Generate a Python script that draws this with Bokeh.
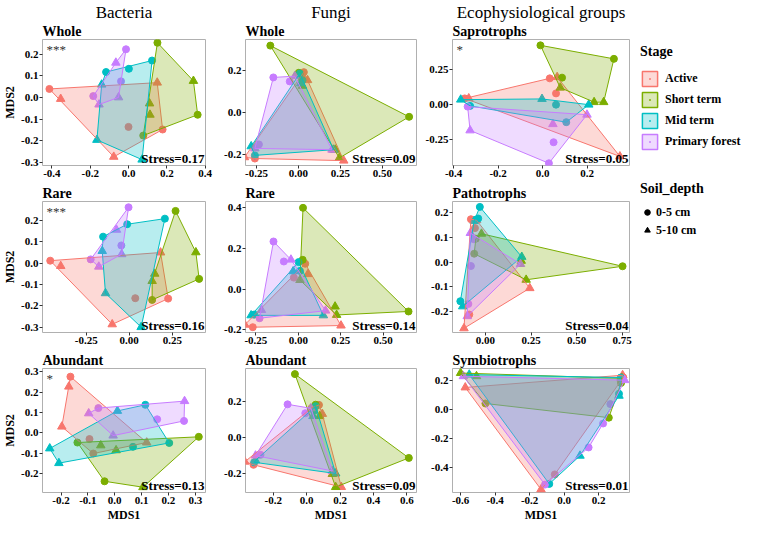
from bokeh.plotting import figure
from bokeh.models import (Range1d, FixedTicker, NumeralTickFormatter, Label, Title,
                          Legend, LegendItem, ColumnDataSource)
from bokeh.layouts import row, column
from bokeh.embed import file_html
from bokeh.resources import INLINE

FONT = "Liberation Serif"

stages = ["Active", "Short term", "Mid term", "Primary forest"]
stage_colors = ["#F8766D", "#7CAE00", "#00BFC4", "#C77CFF"]
depth_labels = ["0-5 cm", "5-10 cm"]
column_headers = ["Bacteria", "Fungi", "Ecophysiological groups"]

# sample order in every panel: Active x6, Short term x6, Mid term x6, Primary forest x6
sample_stage = ["Active", "Active", "Active", "Active", "Active", "Active",
                "Short term", "Short term", "Short term", "Short term", "Short term", "Short term",
                "Mid term", "Mid term", "Mid term", "Mid term", "Mid term", "Mid term",
                "Primary forest", "Primary forest", "Primary forest", "Primary forest", "Primary forest", "Primary forest"]
sample_depth = ["0-5 cm", "0-5 cm", "0-5 cm", "5-10 cm", "5-10 cm", "5-10 cm",
                "0-5 cm", "0-5 cm", "0-5 cm", "5-10 cm", "5-10 cm", "5-10 cm",
                "0-5 cm", "0-5 cm", "0-5 cm", "5-10 cm", "5-10 cm", "5-10 cm",
                "0-5 cm", "0-5 cm", "0-5 cm", "5-10 cm", "5-10 cm", "5-10 cm"]
sym_depth = ["0-5 cm", "0-5 cm", "0-5 cm", "5-10 cm", "5-10 cm", "5-10 cm",
             "0-5 cm", "0-5 cm", "0-5 cm", "5-10 cm", "5-10 cm", "5-10 cm",
             "0-5 cm", "0-5 cm", "0-5 cm", "5-10 cm", "5-10 cm", "5-10 cm",
             "0-5 cm", "0-5 cm", "0-5 cm", "0-5 cm", "5-10 cm", "5-10 cm"]

# Bacteria - Whole
bw_x = [-0.413, 0.000, 0.178, -0.354, -0.077, 0.150,
        0.151, 0.361, 0.077, 0.339, 0.110, 0.112,
        0.123, 0.002, -0.117, -0.140, -0.165, 0.071,
        -0.013, -0.039, -0.184, -0.066, -0.052, -0.154]
bw_y = [0.039, -0.136, -0.148, -0.007, -0.274, 0.068,
        0.252, -0.080, -0.176, 0.076, -0.028, -0.080,
        0.170, 0.132, 0.117, 0.059, -0.196, -0.287,
        0.222, 0.074, 0.006, 0.160, 0.000, -0.033]
# Fungi - Whole
fw_x = [-0.260, 0.032, 0.020, -0.322, 0.270, 0.054,
        -0.168, 0.660, 0.002, 0.024, 0.220, 0.244,
        -0.260, 0.024, 0.008, -0.282, 0.210, 0.014,
        -0.150, -0.052, -0.236, -0.022, -0.260, 0.200]
fw_y = [-0.220, 0.190, 0.163, -0.214, -0.230, 0.152,
        0.316, -0.022, 0.187, 0.125, -0.178, -0.217,
        -0.205, 0.152, 0.184, -0.162, -0.178, 0.137,
        0.165, 0.146, -0.153, 0.171, -0.172, -0.178]
# Saprotrophs
sa_x = [0.032, 0.060, -0.350, 0.065, -0.332, 0.347,
        -0.010, 0.320, 0.087, 0.079, 0.231, 0.274,
        -0.326, 0.060, 0.106, -0.368, -0.003, 0.207,
        -0.337, 0.028, 0.049, -0.326, 0.046, 0.199]
sa_y = [0.189, 0.081, 0.045, 0.198, 0.045, -0.372,
        0.426, 0.329, 0.194, 0.122, 0.018, 0.018,
        -0.009, 0.000, -0.126, 0.036, 0.041, 0.000,
        -0.014, -0.421, -0.270, -0.185, -0.140, -0.072]
# Bacteria - Rare
br_x = [-0.459, 0.035, 0.226, -0.398, -0.099, 0.182,
        0.269, 0.406, 0.133, 0.387, 0.148, 0.133,
        0.207, -0.012, -0.152, -0.157, -0.138, 0.069,
        -0.004, -0.046, -0.224, -0.074, -0.044, -0.177]
br_y = [0.011, -0.164, -0.166, -0.014, -0.286, 0.049,
        0.243, -0.074, -0.172, 0.050, -0.050, -0.084,
        0.207, 0.181, 0.123, 0.056, -0.141, -0.299,
        0.260, 0.082, 0.017, 0.155, 0.041, -0.017]
# Fungi - Rare
fr_x = [-0.268, 0.041, -0.026, -0.315, 0.252, 0.057,
        0.028, 0.650, 0.026, 0.010, 0.217, 0.226,
        -0.260, 0.002, 0.010, -0.278, 0.148, -0.030,
        -0.146, -0.085, -0.228, -0.043, -0.217, 0.161]
fr_y = [-0.187, 0.124, 0.056, -0.175, -0.179, 0.073,
        0.398, -0.110, 0.143, 0.044, -0.086, -0.127,
        -0.125, 0.132, 0.089, -0.129, -0.129, 0.087,
        0.233, 0.135, -0.143, 0.144, -0.103, -0.106]
# Pathotrophs
pa_x = [-0.080, -0.058, -0.089, -0.049, 0.243, -0.118,
        -0.053, -0.062, 0.752, -0.022, 0.223, 0.196,
        -0.031, -0.040, -0.138, -0.062, 0.199, -0.125,
        -0.065, -0.080, -0.094, -0.083, 0.192, -0.100]
pa_y = [0.174, 0.138, -0.213, 0.170, -0.106, -0.269,
        0.095, 0.034, -0.017, 0.115, -0.072, 0.005,
        0.224, 0.177, -0.159, 0.167, 0.021, -0.180,
        0.093, -0.016, -0.170, 0.118, -0.008, -0.220]
# Bacteria - Abundant
ba_x = [-0.165, -0.094, -0.080, -0.171, -0.197, 0.119,
        -0.139, 0.313, -0.038, -0.052, 0.005, 0.105,
        0.114, 0.203, 0.068, -0.242, -0.208, 0.010,
        -0.061, 0.158, 0.258, -0.097, 0.260, -0.006]
ba_y = [0.276, -0.030, -0.101, 0.227, 0.031, -0.047,
        -0.047, -0.019, -0.237, -0.061, -0.085, -0.266,
        0.138, -0.049, -0.068, -0.076, -0.148, 0.108,
        0.122, 0.067, 0.059, 0.096, 0.156, -0.013]
# Fungi - Abundant
fa_x = [-0.318, 0.074, 0.030, -0.370, 0.208, 0.094,
        -0.070, 0.612, 0.054, 0.078, 0.154, 0.174,
        -0.314, 0.054, 0.044, -0.306, 0.174, 0.038,
        -0.114, -0.008, -0.276, 0.026, -0.306, 0.154]
fa_y = [-0.150, 0.181, 0.164, -0.133, -0.273, 0.131,
        0.351, -0.112, 0.182, 0.119, -0.201, -0.273,
        -0.136, 0.174, 0.148, -0.126, -0.198, 0.119,
        0.184, 0.135, -0.095, 0.162, -0.099, -0.184]
# Symbiotrophs
sy_x = [0.343, 0.326, -0.054, -0.573, -0.134, 0.339,
        -0.456, 0.330, 0.259, -0.600, -0.508, 0.335,
        -0.086, 0.318, 0.328, -0.550, 0.092, 0.318,
        -0.111, 0.142, 0.226, 0.268, -0.584, 0.351]
sy_y = [0.221, 0.204, -0.444, 0.152, -0.547, 0.236,
        0.042, 0.183, -0.055, 0.251, 0.229, 0.215,
        -0.509, 0.109, 0.220, 0.240, -0.316, 0.095,
        -0.514, -0.259, -0.095, 0.038, 0.229, 0.202]

# panel settings: (x, y, depth, subtitle, stress, significance, x range, y range, x ticks, y ticks, x fmt, y fmt)
panels = [
    [(bw_x, bw_y, sample_depth, "Whole", "Stress=0.17", "***", (-0.449, 0.402), (-0.314, 0.267),
      [-0.4, -0.2, 0.0, 0.2, 0.4], [-0.3, -0.2, -0.1, 0.0, 0.1, 0.2], "0.0", "0.0"),
     (br_x, br_y, sample_depth, "Rare", "Stress=0.16", "***", (-0.504, 0.443), (-0.324, 0.287),
      [-0.25, 0.0, 0.25], [-0.3, -0.2, -0.1, 0.0, 0.1, 0.2], "0.00", "0.0"),
     (ba_x, ba_y, sample_depth, "Abundant", "Stress=0.13", "*", (-0.269, 0.338), (-0.292, 0.316),
      [-0.2, -0.1, 0.0, 0.1, 0.2, 0.3], [-0.2, -0.1, 0.0, 0.1, 0.2, 0.3], "0.0", "0.0")],
    [(fw_x, fw_y, sample_depth, "Whole", "Stress=0.09", "", (-0.316, 0.704), (-0.253, 0.345),
      [-0.25, 0.0, 0.25, 0.5], [-0.2, 0.0, 0.2], "0.00", "0.0"),
     (fr_x, fr_y, sample_depth, "Rare", "Stress=0.14", "", (-0.311, 0.697), (-0.213, 0.429),
      [-0.25, 0.0, 0.25, 0.5], [-0.2, 0.0, 0.2, 0.4], "0.00", "0.0"),
     (fa_x, fa_y, sample_depth, "Abundant", "Stress=0.09", "", (-0.366, 0.658), (-0.303, 0.382),
      [-0.4, -0.2, 0.0, 0.2, 0.4, 0.6], [-0.2, 0.0, 0.2], "0.0", "0.0")],
    [(sa_x, sa_y, sample_depth, "Saprotrophs", "Stress=0.05", "*", (-0.405, 0.39), (-0.437, 0.468),
      [-0.4, -0.2, 0.0, 0.2], [-0.25, 0.0, 0.25], "0.0", "0.00"),
     (pa_x, pa_y, sample_depth, "Pathotrophs", "Stress=0.04", "", (-0.181, 0.79), (-0.286, 0.246),
      [0.0, 0.25, 0.5, 0.75], [-0.2, -0.1, 0.0, 0.1, 0.2], "0.00", "0.0"),
     (sy_x, sy_y, sym_depth, "Symbiotrophs", "Stress=0.01", "", (-0.647, 0.379), (-0.568, 0.282),
      [-0.6, -0.4, -0.2, 0.0, 0.2], [-0.4, -0.2, 0.0, 0.2], "0.0", "0.0")],
]

col_w = [213, 208, 211]
col_left = [38, 32, 31]
col_right = [8, 5, 3]
row_h = [183, 167, 174]
row_top = [33, 17, 17]
row_bottom = [18, 18, 25]


def convex_hull(pts):
    pts = sorted(set(pts))
    if len(pts) <= 2:
        return pts

    def cross(o, a, b):
        return (a[0] - o[0]) * (b[1] - o[1]) - (a[1] - o[1]) * (b[0] - o[0])
    lower = []
    for q in pts:
        while len(lower) >= 2 and cross(lower[-2], lower[-1], q) <= 0:
            lower.pop()
        lower.append(q)
    upper = []
    for q in reversed(pts):
        while len(upper) >= 2 and cross(upper[-2], upper[-1], q) <= 0:
            upper.pop()
        upper.append(q)
    return lower[:-1] + upper[:-1]


def make_panel(ci, ri, spec):
    xs, ys, depth, sub, stress, sig, xr, yr, xt, yt, xf, yf = spec
    p = figure(width=col_w[ci], height=row_h[ri], x_range=Range1d(*xr), y_range=Range1d(*yr),
               output_backend="svg", toolbar_location=None, title=None,
               min_border_left=col_left[ci], min_border_right=col_right[ci],
               min_border_top=row_top[ri], min_border_bottom=row_bottom[ri])
    p.xgrid.visible = False
    p.ygrid.visible = False
    p.outline_line_color = "#b0b0b0"
    p.outline_line_width = 1
    p.background_fill_color = "white"
    p.border_fill_color = "white"
    p.xaxis.ticker = FixedTicker(ticks=xt)
    p.yaxis.ticker = FixedTicker(ticks=yt)
    p.xaxis.formatter = NumeralTickFormatter(format=xf)
    p.yaxis.formatter = NumeralTickFormatter(format=yf)
    for ax in (p.xaxis, p.yaxis):
        ax.axis_line_color = None
        ax.major_tick_line_color = "#333333"
        ax.major_tick_out = 3
        ax.major_tick_in = 0
        ax.minor_tick_line_color = None
        ax.major_label_text_font = FONT
        ax.major_label_text_font_style = "bold"
        ax.major_label_text_font_size = "11px"
        ax.major_label_text_color = "black"
        ax.major_label_standoff = 1
        ax.axis_label_text_font = FONT
        ax.axis_label_text_font_style = "bold"
        ax.axis_label_text_font_size = "12px"
        ax.axis_label_text_color = "black"
        ax.axis_label_standoff = 1
    if ri == 2:
        p.xaxis.axis_label = "MDS1"
    if ci == 0:
        p.yaxis.axis_label = "MDS2"

    # points first (polygons drawn over them as in the original)
    for st, colr in zip(stages, stage_colors):
        idx = [i for i, s in enumerate(sample_stage) if s == st]
        src = ColumnDataSource(dict(
            x=[xs[i] for i in idx], y=[ys[i] for i in idx],
            marker=["circle" if depth[i] == depth_labels[0] else "triangle" for i in idx],
            size=[7 if depth[i] == depth_labels[0] else 8.5 for i in idx]))
        p.scatter("x", "y", marker="marker", size="size", source=src,
                  fill_color=colr, line_color=colr)
    for st, colr in zip(stages, stage_colors):
        idx = [i for i, s in enumerate(sample_stage) if s == st]
        hull = convex_hull([(xs[i], ys[i]) for i in idx])
        p.patch([h[0] for h in hull], [h[1] for h in hull], fill_color=colr, fill_alpha=0.28,
                line_color=colr, line_width=1)

    p.add_layout(Label(x=xr[1], y=yr[0], text=stress, text_align="right", text_baseline="bottom",
                       x_offset=-1, y_offset=0, text_font=FONT, text_font_size="13px",
                       text_font_style="bold", text_color="black"))
    if sig:
        p.add_layout(Label(x=xr[0], y=yr[1], text=sig, text_align="left", text_baseline="top",
                           x_offset=4, y_offset=-2, text_font=FONT, text_font_size="13px",
                           text_color="#333333"))
    p.add_layout(Title(text=sub, align="left", text_font=FONT, text_font_size="14px",
                       text_font_style="bold", text_color="black", standoff=1), "above")
    if ri == 0:
        p.add_layout(Title(text=column_headers[ci], align="center", text_font=FONT,
                           text_font_size="17px", text_font_style="normal",
                           text_color="black", standoff=0), "above")
    return p


cols = []
for ci in range(3):
    cols.append(column([make_panel(ci, ri, panels[ci][ri]) for ri in range(3)], spacing=0))

# legend panels
legA = figure(width=110, height=172, x_range=Range1d(0, 1), y_range=Range1d(0, 1),
              output_backend="svg", toolbar_location=None, title=None,
              x_axis_type=None, y_axis_type=None,
              min_border_left=8, min_border_top=44, min_border_right=0, min_border_bottom=0)
legA.grid.visible = False
legA.outline_line_color = None
itemsA = []
for st, colr in zip(stages, stage_colors):
    r1 = legA.patch([-5, -4, -4.5], [-5, -5, -4], fill_color=colr, fill_alpha=0.28,
                    line_color=colr, line_width=1.5)
    r2 = legA.scatter([-5], [-5], size=5, marker="dot", line_width=2.5,
                      fill_color=colr, line_color=colr)
    itemsA.append(LegendItem(label=st, renderers=[r1, r2]))
legendA = Legend(items=itemsA, title="Stage", location="top_left", margin=0, padding=0,
                 spacing=2, glyph_width=19, glyph_height=19, label_height=19, label_standoff=6,
                 title_standoff=9, border_line_color=None, background_fill_alpha=0,
                 label_text_font=FONT, label_text_font_style="bold", label_text_font_size="12px",
                 label_text_color="black", title_text_font=FONT, title_text_font_style="bold",
                 title_text_font_size="14px", title_text_color="black")
legA.add_layout(legendA)

legB = figure(width=110, height=352, x_range=Range1d(0, 1), y_range=Range1d(0, 1),
              output_backend="svg", toolbar_location=None, title=None,
              x_axis_type=None, y_axis_type=None,
              min_border_left=4, min_border_top=9, min_border_right=0, min_border_bottom=0)
legB.grid.visible = False
legB.outline_line_color = None
itemsB = []
for d, mk in zip(depth_labels, ["circle", "triangle"]):
    r = legB.scatter([-5], [-5], size=7, marker=mk, fill_color="black", line_color="black")
    itemsB.append(LegendItem(label=d, renderers=[r]))
legendB = Legend(items=itemsB, title="Soil_depth", location="top_left", margin=0, padding=0,
                 spacing=0, glyph_width=14, glyph_height=18, label_height=18, label_standoff=2,
                 title_standoff=6, border_line_color=None, background_fill_alpha=0,
                 label_text_font=FONT, label_text_font_style="bold", label_text_font_size="12px",
                 label_text_color="black", title_text_font=FONT, title_text_font_style="bold",
                 title_text_font_size="14px", title_text_color="black")
legB.add_layout(legendB)

layout = row(cols + [column([legA, legB], spacing=0)], spacing=0)

open("out.html", "w").write(file_html(layout, INLINE))
